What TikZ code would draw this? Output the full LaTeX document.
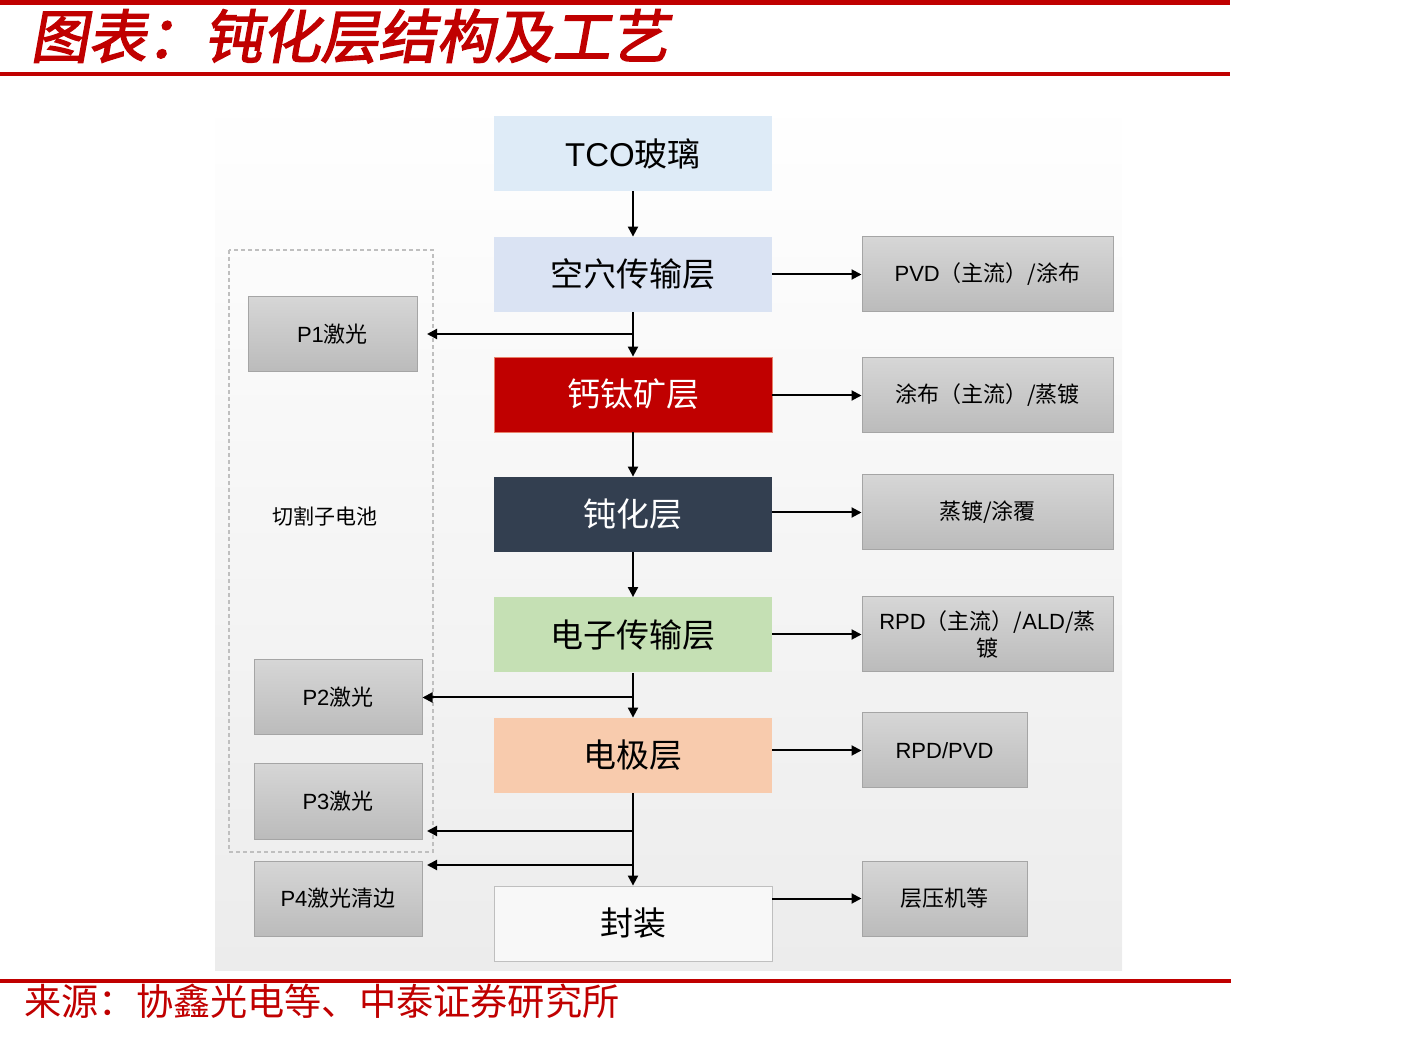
\documentclass[tikz,border=0pt]{standalone}
\usepackage{fontspec}
\setmainfont{Liberation Sans}
\newfontfamily\cjk{Noto Sans CJK SC}
\newfontfamily\titlefont{Noto Sans CJK SC}[FakeSlant=0.18,FakeBold=2.5]
\usetikzlibrary{arrows.meta}
\definecolor{hdred}{HTML}{C00000}
\definecolor{tcoblue}{HTML}{DEEBF7}
\definecolor{htlblue}{HTML}{DAE3F3}
\definecolor{pvkred}{HTML}{C00000}
\definecolor{pvkedge}{HTML}{E8806A}
\definecolor{pasnavy}{HTML}{333F50}
\definecolor{etlgreen}{HTML}{C5E0B4}
\definecolor{elcorange}{HTML}{F8CBAD}
\definecolor{fzwhite}{HTML}{F8F8F8}
\definecolor{panelgray}{HTML}{ECECEC}
\definecolor{proctop}{HTML}{D6D6D6}
\definecolor{procbot}{HTML}{BBBBBB}
\definecolor{procedge}{HTML}{A5A5A5}
\begin{document}
\begin{tikzpicture}[x=0.5pt,y=-0.5pt,
  arr/.style={-{Triangle[length=5pt,width=5pt]},line width=1pt},
  layer/.style={minimum width=139pt,minimum height=37.5pt,inner sep=0pt,
    font=\cjk\fontsize{16.5}{18}\selectfont},
  proc/.style={draw=procedge,line width=0.5pt,top color=proctop,bottom color=procbot,
    minimum height=37.5pt,inner sep=0pt,align=center,
    font=\cjk\fontsize{11}{13.5}\selectfont}]
\useasboundingbox (0,0) rectangle (1410,1037);

\fill[hdred] (0,0) rectangle (1230,5);
\fill[hdred] (0,72) rectangle (1230,76);
\fill[hdred] (0,979) rectangle (1231,983);
\node[anchor=base west,text=hdred,inner sep=0pt,font=\titlefont\fontsize{29}{31}\selectfont]
  (title) at (30,58) {图表：钝化层结构及工艺};
\node[anchor=base west,text=hdred,inner sep=0pt,font=\cjk\fontsize{18.6}{20}\selectfont]
  (src) at (24,1015) {来源：协鑫光电等、中泰证券研究所};

\shade[top color=white,bottom color=panelgray] (215,95) rectangle (1122,970);
\draw[black!25,line width=0.7pt,dash pattern=on 2pt off 1.5pt] (229,250) rectangle (433,852);
\node[font=\cjk\fontsize{10.5}{12}\selectfont] (cut) at (325,516) {切割子电池};

\foreach \nm/\y/\col/\tc/\bd/\lab in {
tco/153.5/tcoblue/black/none/{{\rmfamily TCO}玻璃},
htl/274.5/htlblue/black/none/{空穴传输层},
pvk/394.5/pvkred/white/pvkedge/{钙钛矿层},
pas/514.5/pasnavy/white/none/{钝化层},
etl/635/etlgreen/black/none/{电子传输层},
elc/755.5/elcorange/black/none/{电极层},
fz/923.5/fzwhite/black/{black!25}/{封装}}
{
  \node[layer,fill=\col,text=\tc,draw=\bd] (\nm) at (633,\y) {\lab};
}

\foreach \nm/\x/\y/\w/\lab in {
pvd/987.5/274.5/125.5/{{\rmfamily PVD}（主流）/涂布},
tb/987.5/395.5/125.5/{涂布（主流）/蒸镀},
zd/987.5/512.5/125.5/{蒸镀/涂覆},
rpd/987.5/634.5/125.5/{{\rmfamily RPD}（主流）/{\rmfamily ALD}/蒸\\镀},
rpv/944.5/750.5/82.5/{{\rmfamily RPD/PVD}},
cy/944.5/898.5/82.5/{层压机等},
p1/332.5/334.5/84.5/{{\rmfamily P1}激光},
p2/338/697.5/84/{{\rmfamily P2}激光},
p3/338/801.5/84/{{\rmfamily P3}激光},
p4/338/898.5/84/{{\rmfamily P4}激光清边}}
{
  \node[proc,minimum width=\w pt] (\nm) at (\x,\y) {\lab};
}

\coordinate (p1in) at (427,334);
\coordinate (p3in) at (427,831);
\coordinate (p4in) at (427,865);

\draw[arr] (tco) -- (htl);
\draw[arr] (htl) -- (pvk);
\draw[arr] (pvk) -- (pas);
\draw[arr] (pas) -- (etl);
\draw[arr] (etl) -- (elc);
\draw[arr] (elc) -- (fz);
\draw[arr] (htl.south |- p1in) -- (p1in);
\draw[arr] (etl.south |- p2.east) -- (p2.east);
\draw[arr] (elc.south |- p3in) -- (p3in);
\draw[arr] (elc.south |- p4in) -- (p4in);
\foreach \a/\b in {htl/pvd,pvk/tb,pas/zd,etl/rpd,elc/rpv,fz/cy}
  \draw[arr] (\a.east |- \b.west) -- (\b.west);
\end{tikzpicture}
\end{document}
